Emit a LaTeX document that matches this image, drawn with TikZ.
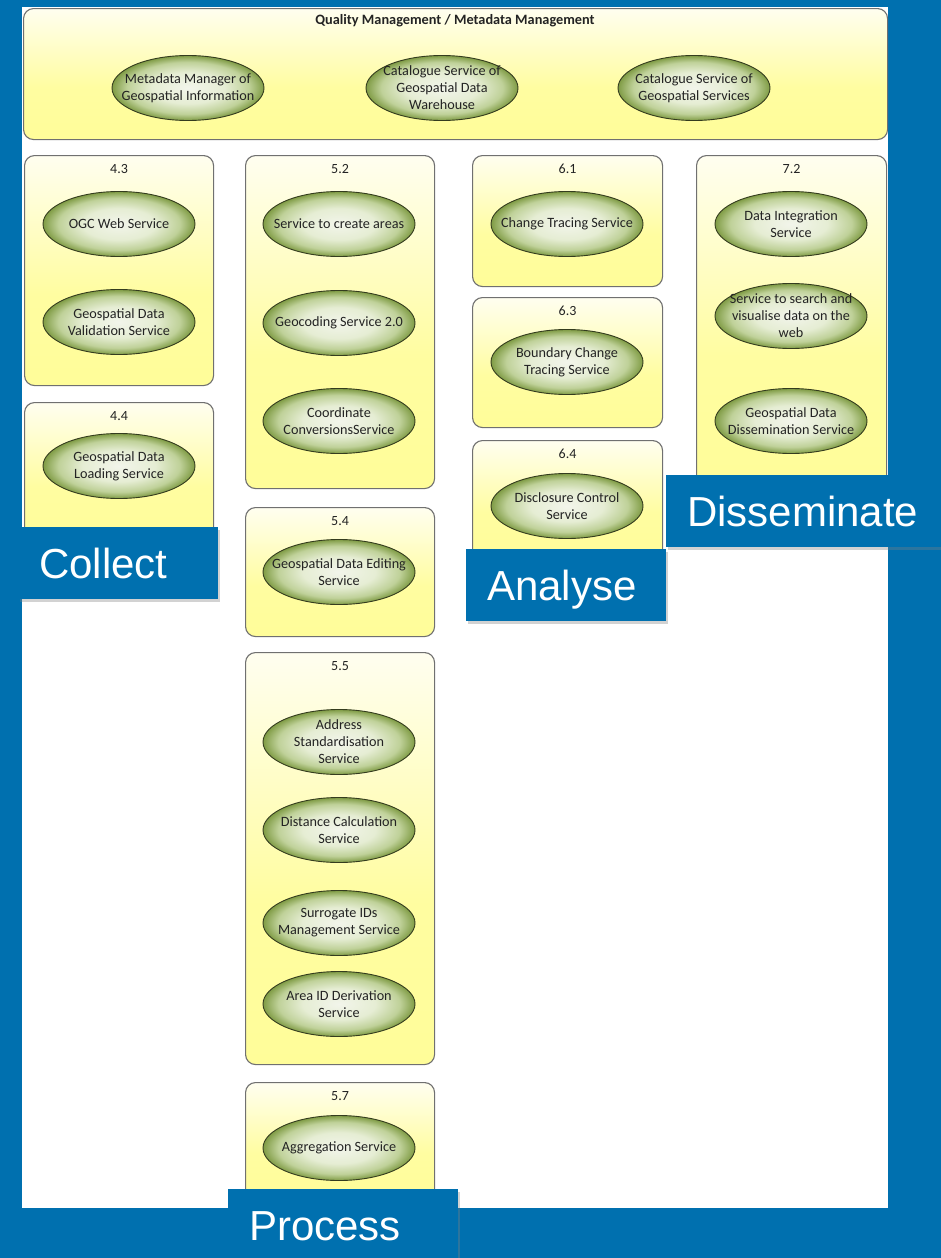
\documentclass[tikz,border=0pt]{standalone}
\usepackage{fontspec}
\setmainfont{Carlito}
\newfontfamily\stagefont{Liberation Sans}
\usetikzlibrary{shapes.geometric,shadows}

\definecolor{stageblue}{RGB}{0,112,175}
\definecolor{panelline}{RGB}{112,112,112}
\definecolor{eggline}{RGB}{52,60,30}
\definecolor{inktext}{RGB}{35,35,35}

% yellow panel fill: light at the top, plain yellow in the lower part
\pgfdeclareverticalshading{panelshade}{100bp}{%
  rgb(0bp)=(1,0.992,0.6); rgb(25bp)=(1,0.992,0.6); rgb(45bp)=(1,0.992,0.63);
  rgb(75bp)=(1,0.996,0.94); rgb(100bp)=(1,0.996,0.94)}
% green service bubbles: pale centre, olive rim
\pgfdeclareradialshading{eggshade}{\pgfpoint{0bp}{0bp}}{%
  rgb(0bp)=(0.95,0.96,0.92); rgb(12bp)=(0.9,0.93,0.83); rgb(20bp)=(0.75,0.82,0.6);
  rgb(25bp)=(0.5,0.61,0.27); rgb(50bp)=(0.5,0.61,0.27)}

\tikzset{
  panel/.style={shading=panelshade, draw=panelline, line width=1.1pt,
    rounded corners=10pt, anchor=north west, inner sep=0pt},
  panelhead/.style={anchor=north, inner sep=0pt, text=inktext,
    text height=10pt, text depth=0pt,
    font=\fontsize{14}{16}\selectfont},
  egg/.style={ellipse, shading=eggshade, draw=eggline, line width=0.9pt,
    minimum width=152pt, minimum height=65pt, inner sep=0pt,
    label={[egglabel]center:#1}},
  egglabel/.style={align=center, text=inktext, inner sep=0pt,
    font=\fontsize{14.2}{17}\selectfont},
  stage/.style={fill=stageblue, text=white, anchor=north west, align=left,
    inner xsep=21pt, inner ysep=0pt, minimum height=72pt,
    text height=30pt, text depth=0pt,
    font=\stagefont\fontsize{42}{48}\selectfont,
    drop shadow={opacity=0.35, shadow xshift=2pt, shadow yshift=-3pt}},
}

\begin{document}
\begin{tikzpicture}[x=1pt,y=-1pt]
  % page ground and white sheet
  \fill[stageblue] (0,0) rectangle (941,1258);
  \useasboundingbox (0,0) rectangle (941,1258);
  \fill[white] (22,7) rectangle (888,1208);

  % Quality / metadata management band
  \node[panel, minimum width=864pt, minimum height=131pt] (pqm) at (23,8) {};
  \node[font=\bfseries\fontsize{14.3}{16}\selectfont, text=inktext] (title) at (455,21)
    {Quality Management / Metadata Management};
  \node[egg={Metadata Manager of\\Geospatial Information}] (mm) at (188,88) {};
  \node[egg={Catalogue Service of\\Geospatial Data\\Warehouse}] (csw) at (442,88) {};
  \node[egg={Catalogue Service of\\Geospatial Services}] (css) at (694,88) {};

  % column 1
  \node[panel, minimum width=189pt, minimum height=230pt] (p43) at (24,155) {};
  \node[panelhead] (h43) at ([yshift=-8pt]p43.north) {4.3};
  \node[egg={OGC Web Service}] (ogc) at (119,224) {};
  \node[egg={Geospatial Data\\Validation Service}] (gdv) at (119,322) {};

  \node[panel, minimum width=189pt, minimum height=140pt] (p44) at (24,402) {};
  \node[panelhead] (h44) at ([yshift=-8pt]p44.north) {4.4};
  \node[egg={Geospatial Data\\Loading Service}] (gdl) at (119,466) {};

  % column 2
  \node[panel, minimum width=189pt, minimum height=333pt] (p52) at (245,155) {};
  \node[panelhead] (h52) at ([yshift=-8pt]p52.north) {5.2};
  \node[egg={Service to create areas}] (sca) at (339,224) {};
  \node[egg={Geocoding Service 2.0}] (geo) at (339,323) {};
  \node[egg={Coordinate\\ConversionsService}] (ccs) at (339,421) {};

  \node[panel, minimum width=189pt, minimum height=129pt] (p54) at (245,507) {};
  \node[panelhead] (h54) at ([yshift=-8pt]p54.north) {5.4};
  \node[egg={Geospatial Data Editing\\Service}] (gde) at (339,572) {};

  \node[panel, minimum width=189pt, minimum height=412pt] (p55) at (245,652) {};
  \node[panelhead] (h55) at ([yshift=-8pt]p55.north) {5.5};
  \node[egg={Address\\Standardisation\\Service}] (ads) at (339,742) {};
  \node[egg={Distance Calculation\\Service}] (dcs) at (339,830) {};
  \node[egg={Surrogate IDs\\Management Service}] (sid) at (339,923) {};
  \node[egg={Area ID Derivation\\Service}] (aid) at (339,1004) {};

  \node[panel, minimum width=189pt, minimum height=118pt] (p57) at (245,1082) {};
  \node[panelhead] (h57) at ([yshift=-8pt]p57.north) {5.7};
  \node[egg={Aggregation Service}] (agg) at (339,1148) {};

  % column 3
  \node[panel, minimum width=190pt, minimum height=131pt] (p61) at (472,155) {};
  \node[panelhead] (h61) at ([yshift=-8pt]p61.north) {6.1};
  \node[egg={Change Tracing Service}] (cts) at (567,224) {};

  \node[panel, minimum width=190pt, minimum height=130pt] (p63) at (472,297) {};
  \node[panelhead] (h63) at ([yshift=-8pt]p63.north) {6.3};
  \node[egg={Boundary Change\\Tracing Service}] (bct) at (567,362) {};

  \node[panel, minimum width=190pt, minimum height=120pt] (p64) at (472,440) {};
  \node[panelhead] (h64) at ([yshift=-8pt]p64.north) {6.4};
  \node[egg={Disclosure Control\\Service}] (dcc) at (567,506) {};

  % column 4
  \node[panel, minimum width=190pt, minimum height=335pt] (p72) at (696,155) {};
  \node[panelhead] (h72) at ([yshift=-8pt]p72.north) {7.2};
  \node[egg={Data Integration\\Service}] (dis) at (791,224) {};
  \node[egg={Service to search and\\visualise data on the\\web}] (ssv) at (791,316) {};
  \node[egg={Geospatial Data\\Dissemination Service}] (gdd) at (791,421) {};

  % stage captions
  \node[stage, text width=158pt] (collect) at (18,527) {Collect};
  \node[stage, text width=188pt] (process) at (228,1189) {Process};
  \node[stage, text width=158pt] (analyse) at (466,549) {Analyse};
  \node[stage, text width=233pt] (disseminate) at (666,475) {Disseminate};
\end{tikzpicture}
\end{document}
